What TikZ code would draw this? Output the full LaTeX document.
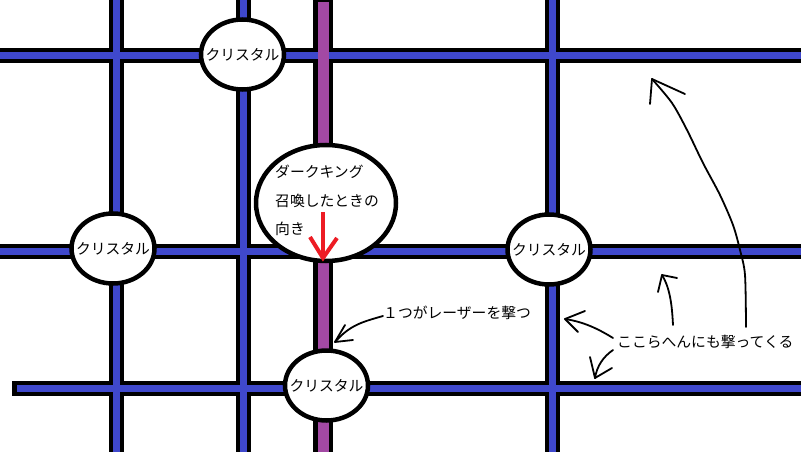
\documentclass[tikz,border=0pt]{standalone}
\usepackage{fontspec}
\newfontfamily\jp{Noto Sans CJK JP}
\usetikzlibrary{shapes.geometric}
\definecolor{pipeblue}{HTML}{3F48CC}
\definecolor{pipepurple}{HTML}{A349A4}
\definecolor{arrowred}{HTML}{ED1C24}
\tikzset{
  pipeout/.style={line width=15pt, black},
  pipein/.style={line width=7pt, pipeblue},
  purpleout/.style={line width=20pt, black},
  purplein/.style={line width=11pt, pipepurple},
  crystal/.style={ellipse, draw=black, line width=4.5pt, fill=white, inner sep=0pt, minimum width=83pt, minimum height=70pt},
  kingbox/.style={ellipse, draw=black, line width=4.5pt, fill=white, inner sep=0pt, minimum width=140pt, minimum height=116pt},
  lbl/.style={font=\jp\fontsize{14.8}{17}\selectfont, inner sep=0pt, text=black},
  hand/.style={line width=1.8pt, black, line cap=round, line join=round},
}
\begin{document}
\begin{tikzpicture}[x=1pt,y=-1pt]
\fill[white] (0,0) rectangle (801,452);
\useasboundingbox (0,0) rectangle (801,452);
% outer black of pipes
\draw[pipeout] (116,0)--(116,452) (243,0)--(243,452) (552,0)--(552,452);
\draw[pipeout] (0,55.5)--(801,55.5) (0,251)--(801,251) (12,388)--(801,388);
\draw[purpleout] (323,0)--(323,452);
% inner colour of pipes
\draw[pipein] (116,0)--(116,452) (243,0)--(243,452) (552,0)--(552,452);
\draw[pipein] (0,55.5)--(801,55.5) (0,251)--(801,251) (17,388)--(801,388);
\draw[purplein] (323,2)--(323,452);
% crystals
\node[crystal] (ctop) at (242.5,54.5) {};
\node[crystal] (cleft) at (113,248.5) {};
\node[crystal] (cright) at (549,249.5) {};
\node[crystal] (cbottom) at (326.5,385.5) {};
\node[kingbox] (king) at (326,203) {};
\node[lbl] (tctop) at (ctop) {クリスタル};
\node[lbl] (tcleft) at (cleft) {クリスタル};
\node[lbl] (tcright) at (cright) {クリスタル};
\node[lbl] (tcbottom) at (cbottom) {クリスタル};
\node[lbl, anchor=west] (k1) at (275,172) {ダークキング};
\node[lbl, anchor=west] (k2) at (275,201) {召喚したときの};
\node[lbl, anchor=west] (k3) at (275,229) {向き};
% red direction arrow
\coordinate (rtip) at (323,258);
\draw[arrowred, line width=4pt] (323,212)--(rtip);
\draw[arrowred, line width=4pt, line join=miter] (310,237)--(rtip)--(337,238);
% labels
\node[lbl, anchor=west] (laser) at (383,313) {１つがレーザーを撃つ};
\node[lbl, anchor=west] (also) at (617,342) {ここらへんにも撃ってくる};
% hand arrows
\coordinate (t1) at (335,342);
\draw[hand] (383,316) .. controls (362,322) and (350,325) .. (t1);
\draw[hand] (345,325)--(t1)--(353,340);
\coordinate (t2) at (565,319);
\draw[hand] (613,338) .. controls (600,330) and (585,322) .. (t2);
\draw[hand] (585,311)--(t2)--(578,332);
\coordinate (t3) at (595,378);
\draw[hand] (613,350) .. controls (603,357) and (597,366) .. (t3);
\draw[hand] (590,357)--(t3)--(612,368);
\coordinate (t4) at (662,275);
\draw[hand] (673,325) .. controls (672,305) and (670,288) .. (t4);
\draw[hand] (658,292)--(t4)--(677,278);
\coordinate (t5) at (652,79);
\draw[hand] plot[smooth] coordinates {(746,327) (745,275) (740,250) (733,225) (720,195) (703,163) (687,130) (672,103) (t5)};
\draw[hand] (650,104)--(t5)--(685,94);
\end{tikzpicture}
\end{document}
